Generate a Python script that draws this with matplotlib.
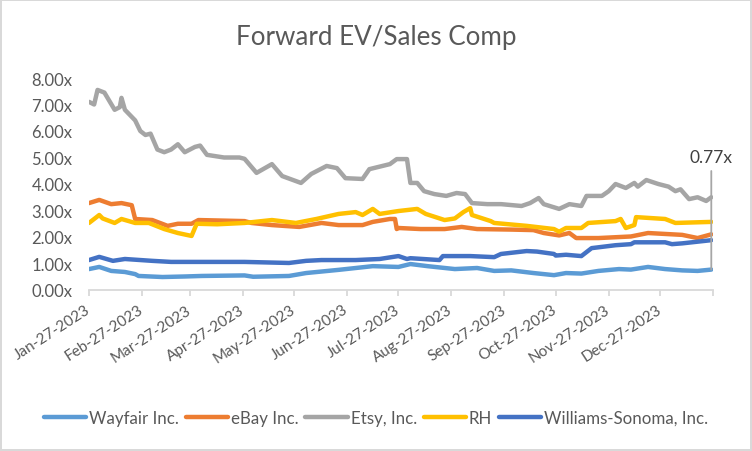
import numpy as np
import matplotlib.pyplot as plt

plt.rcParams['font.family'] = ['Lato', 'DejaVu Sans']

start = np.datetime64('2023-01-27')

# day offsets from Jan-27-2023 and EV/Sales multiples
etsy_days = [0, 3, 5, 9, 15, 18, 19, 21, 24, 27, 30, 33, 36, 40, 44, 48, 52, 56, 62, 65,
             69, 74, 79, 88, 91, 98, 107, 113, 124, 130, 139, 145, 150, 160, 164, 176, 180,
             186, 188, 192, 196, 202, 209, 215, 220, 224, 233, 241, 253, 258, 263, 266,
             275, 281, 288, 291, 300, 304, 308, 314, 319, 321, 326, 333, 339, 343, 346,
             351, 356, 361, 364]
etsy = [7.10, 7.00, 7.55, 7.45, 6.80, 6.90, 7.25, 6.80, 6.60, 6.40, 6.00, 5.85, 5.90, 5.30,
        5.20, 5.30, 5.50, 5.20, 5.40, 5.45, 5.10, 5.05, 5.00, 5.00, 4.95, 4.42, 4.75, 4.30,
        4.04, 4.38, 4.68, 4.60, 4.22, 4.19, 4.56, 4.75, 4.94, 4.94, 4.04, 4.04, 3.73, 3.62,
        3.55, 3.66, 3.62, 3.28, 3.24, 3.24, 3.17, 3.28, 3.47, 3.24, 3.06, 3.24, 3.17, 3.55,
        3.55, 3.73, 4.00, 3.85, 4.04, 3.90, 4.15, 4.00, 3.90, 3.73, 3.80, 3.43, 3.50, 3.36,
        3.50]

wayfair_days = [0, 6, 13, 21, 27, 29, 43, 56, 66, 91, 96, 117, 127, 146, 166, 181, 188, 198,
                214, 227, 237, 247, 260, 272, 279, 288, 298, 310, 317, 327, 337, 347, 356, 364]
wayfair = [0.79, 0.87, 0.72, 0.68, 0.60, 0.53, 0.49, 0.51, 0.53, 0.55, 0.50, 0.53, 0.64,
           0.76, 0.90, 0.87, 0.98, 0.90, 0.79, 0.83, 0.72, 0.74, 0.64, 0.56, 0.64, 0.62,
           0.72, 0.79, 0.77, 0.87, 0.79, 0.74, 0.72, 0.77]

ws_days = [0, 6, 14, 21, 37, 48, 91, 117, 127, 136, 156, 170, 181, 186, 188, 205, 207, 223,
           237, 241, 256, 262, 272, 273, 279, 288, 294, 308, 317, 319, 337, 341, 347, 364]
ws = [1.13, 1.25, 1.10, 1.17, 1.10, 1.06, 1.06, 1.02, 1.10, 1.13, 1.13, 1.17, 1.28, 1.17,
      1.20, 1.13, 1.28, 1.28, 1.24, 1.36, 1.47, 1.45, 1.36, 1.30, 1.33, 1.28, 1.58, 1.69,
      1.73, 1.80, 1.80, 1.73, 1.76, 1.88]

ebay_days = [0, 6, 13, 19, 25, 27, 37, 46, 52, 60, 64, 91, 95, 107, 123, 136, 146, 160, 166,
             176, 179, 180, 181, 194, 208, 218, 227, 247, 260, 266, 275, 281, 285, 298, 317,
             327, 347, 356, 364]
ebay = [3.28, 3.40, 3.24, 3.28, 3.20, 2.68, 2.64, 2.42, 2.50, 2.50, 2.64, 2.60, 2.53, 2.45,
        2.38, 2.53, 2.45, 2.45, 2.57, 2.68, 2.68, 2.30, 2.34, 2.30, 2.30, 2.38, 2.30, 2.28,
        2.26, 2.15, 2.06, 2.15, 1.96, 1.96, 2.02, 2.15, 2.08, 1.96, 2.10]

rh_days = [0, 6, 8, 15, 19, 27, 35, 44, 52, 60, 63, 75, 91, 107, 121, 133, 146, 156, 160,
           166, 170, 181, 192, 197, 208, 214, 219, 223, 224, 235, 237, 256, 272, 275, 279,
           288, 292, 308, 311, 314, 319, 320, 337, 343, 364]
rh = [2.53, 2.83, 2.70, 2.53, 2.68, 2.53, 2.53, 2.30, 2.15, 2.04, 2.50, 2.48, 2.53, 2.64,
      2.53, 2.68, 2.87, 2.94, 2.83, 3.06, 2.87, 2.98, 3.06, 2.87, 2.64, 2.70, 2.94, 3.09,
      2.83, 2.60, 2.53, 2.42, 2.30, 2.20, 2.34, 2.34, 2.53, 2.60, 2.68, 2.34, 2.45, 2.75,
      2.68, 2.53, 2.57]

tick_labels = ['Jan-27-2023', 'Feb-27-2023', 'Mar-27-2023', 'Apr-27-2023', 'May-27-2023',
               'Jun-27-2023', 'Jul-27-2023', 'Aug-27-2023', 'Sep-27-2023', 'Oct-27-2023',
               'Nov-27-2023', 'Dec-27-2023', '']
tick_dates = np.arange('2023-01', '2024-02', dtype='datetime64[M]').astype('datetime64[D]') + 26

def to_dates(days):
    return start + np.array(days).astype('timedelta64[D]')

fig = plt.figure(figsize=(7.52, 4.52), dpi=100)
fig.patch.set_edgecolor('#D9D9D9')
fig.patch.set_linewidth(1.5)
ax = fig.add_axes([89 / 752, 1 - 291 / 452, 624 / 752, 212 / 452])

series = [
    ('Wayfair Inc.', wayfair_days, wayfair, '#5B9BD5'),
    ('eBay Inc.', ebay_days, ebay, '#ED7D31'),
    ('Etsy, Inc.', etsy_days, etsy, '#A5A5A5'),
    ('RH', rh_days, rh, '#FFC000'),
    ('Williams-Sonoma, Inc.', ws_days, ws, '#4472C4'),
]
for name, d, v, c in series:
    ax.plot(to_dates(d), v, color=c, lw=3.2, label=name, solid_joinstyle='round',
            solid_capstyle='round')

end = start + np.timedelta64(364, 'D')
ax.annotate('0.77x', xy=(end, wayfair[-1]), xytext=(end, 4.7), ha='center', va='bottom',
            fontsize=12.5, color='#404040',
            arrowprops=dict(arrowstyle='-', color='#A6A6A6', lw=1.3, shrinkA=2, shrinkB=0))

ax.set_xlim(start, start + np.timedelta64(365, 'D'))
ax.set_ylim(0, 8)
ax.set_yticks(np.arange(0, 9, 1))
ax.set_yticklabels([f'{v:.2f}x' for v in np.arange(0, 9, 1)])
ax.set_xticks(tick_dates)
ax.set_xticklabels(tick_labels, rotation=33, ha='right', va='center', rotation_mode='anchor')

for s in ['left', 'top', 'right']:
    ax.spines[s].set_visible(False)
ax.spines['bottom'].set_color('#D9D9D9')
ax.spines['bottom'].set_linewidth(1.3)
ax.tick_params(axis='y', length=0, pad=12, labelsize=12, labelcolor='#595959')
ax.tick_params(axis='x', length=4, width=1.3, color='#D9D9D9', pad=9, labelsize=11,
               labelcolor='#595959')

fig.text(0.5, 1 - 38 / 452, 'Forward EV/Sales Comp', ha='center', va='center',
         fontsize=18.7, color='#595959')

fig.legend(loc='center', bbox_to_anchor=(0.5, 1 - 419 / 452), ncol=5, frameon=False,
           fontsize=12.2, handlelength=2.5, handletextpad=0.17, columnspacing=0.4,
           labelcolor='#595959')

fig.savefig('out.png', dpi=100)
